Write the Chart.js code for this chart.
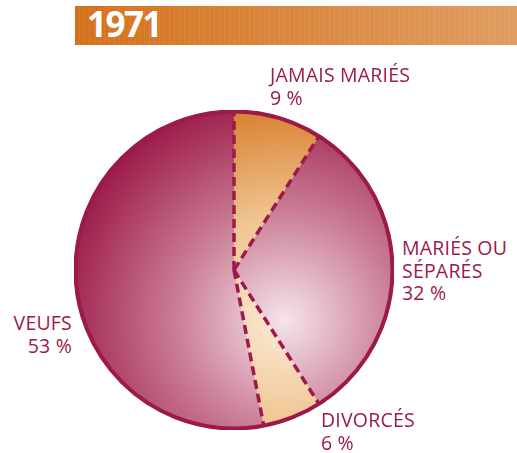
<!DOCTYPE html>
<html>
<head>
<meta charset="utf-8">
<script src="https://cdn.jsdelivr.net/npm/chart.js@4"></script>
<style>
body{margin:0;background:#fff;width:517px;height:453px;overflow:hidden;position:relative;font-family:"Open Sans",sans-serif;}
#bandeau{position:absolute;left:75px;top:6px;width:442px;height:39px;
 background:repeating-linear-gradient(90deg,rgba(255,255,255,0) 0px,rgba(255,255,255,0) 4px,rgba(255,255,255,0.07) 4px,rgba(255,255,255,0.07) 5px),linear-gradient(90deg,#d4721c,#e09d62);}
#annee{position:absolute;left:87px;top:2px;color:#fff;font-weight:bold;font-size:35px;letter-spacing:-1.5px;line-height:44px;}
#zone{position:absolute;left:74px;top:110px;width:320px;height:320px;}
.etiq{position:absolute;color:#9c1a4a;font-size:19.5px;line-height:22.5px;letter-spacing:0.2px;}
</style>
</head>
<body>
<div id="bandeau"></div>
<div id="annee">1971</div>
<div id="zone"><canvas id="camembert" width="320" height="320"></canvas></div>
<div id="etiquettes"></div>
<script>
// donnees
var categories = ["JAMAIS MARIÉS", "MARIÉS OU SÉPARÉS", "DIVORCÉS", "VEUFS"];
var pourcentages = [9, 32, 6, 53];
var etiquettes = [["JAMAIS MARIÉS", "9 %"], ["MARIÉS OU", "SÉPARÉS", "32 %"], ["DIVORCÉS", "6 %"], ["VEUFS", "53 %"]];
var tons = ["orange", "rose", "orange", "rose"];

// position des textes
var places = [
    {left: 270, top: 64, align: "left"},
    {left: 402, top: 237, align: "left"},
    {left: 321, top: 409, align: "left"},
    {right: 445, top: 312, align: "right"}
];
var boite = document.getElementById("etiquettes");
for (let i = 0; i < etiquettes.length; i++) {
    let d = document.createElement("div");
    d.className = "etiq";
    d.style.top = places[i].top + "px";
    if (places[i].left !== undefined) d.style.left = places[i].left + "px";
    if (places[i].right !== undefined) d.style.right = places[i].right + "px";
    d.style.textAlign = places[i].align;
    d.innerHTML = etiquettes[i].join("<br>");
    boite.appendChild(d);
}

function degrade(ctx, area, ton) {
    var cx = area.left + 211, cy = area.top + 210;
    var g = ctx.createRadialGradient(cx, cy, 0, cx, cy, 235);
    if (ton == "orange") {
        g.addColorStop(0, "#fcebd8");
        g.addColorStop(0.45, "#f0c490");
        g.addColorStop(1, "#d4731e");
    } else {
        g.addColorStop(0, "#f5e4ec");
        g.addColorStop(0.48, "#c97a92");
        g.addColorStop(1, "#9a1747");
    }
    return g;
}

var traits = {
    id: "traits",
    afterDatasetsDraw(chart) {
        var ctx = chart.ctx;
        var arcs = chart.getDatasetMeta(0).data;
        if (!arcs.length) return;
        var x = arcs[0].x, y = arcs[0].y, r = arcs[0].outerRadius;
        ctx.save();
        ctx.strokeStyle = "#9c1a4a";
        ctx.lineWidth = 3.5;
        ctx.setLineDash([9, 5]);
        for (let i = 0; i < arcs.length; i++) {
            let a = arcs[i].startAngle;
            ctx.beginPath();
            ctx.moveTo(x, y);
            ctx.lineTo(x + Math.cos(a) * (r - 2), y + Math.sin(a) * (r - 2));
            ctx.stroke();
        }
        ctx.setLineDash([]);
        ctx.lineWidth = 4;
        ctx.beginPath();
        ctx.arc(x, y, r - 1.5, 0, Math.PI * 2);
        ctx.stroke();
        ctx.restore();
    }
};

var chart = new Chart(document.getElementById("camembert").getContext("2d"), {
    type: "pie",
    data: {
        labels: categories,
        datasets: [{
            data: pourcentages,
            borderWidth: 0,
            backgroundColor: function (c) {
                var area = c.chart.chartArea;
                if (!area) return "#c97a92";
                return degrade(c.chart.ctx, area, tons[c.dataIndex]);
            }
        }]
    },
    plugins: [traits],
    options: {
        responsive: false,
        animation: false,
        layout: {padding: 0},
        plugins: {legend: {display: false}, tooltip: {enabled: false}}
    }
});
</script>
</body>
</html>
